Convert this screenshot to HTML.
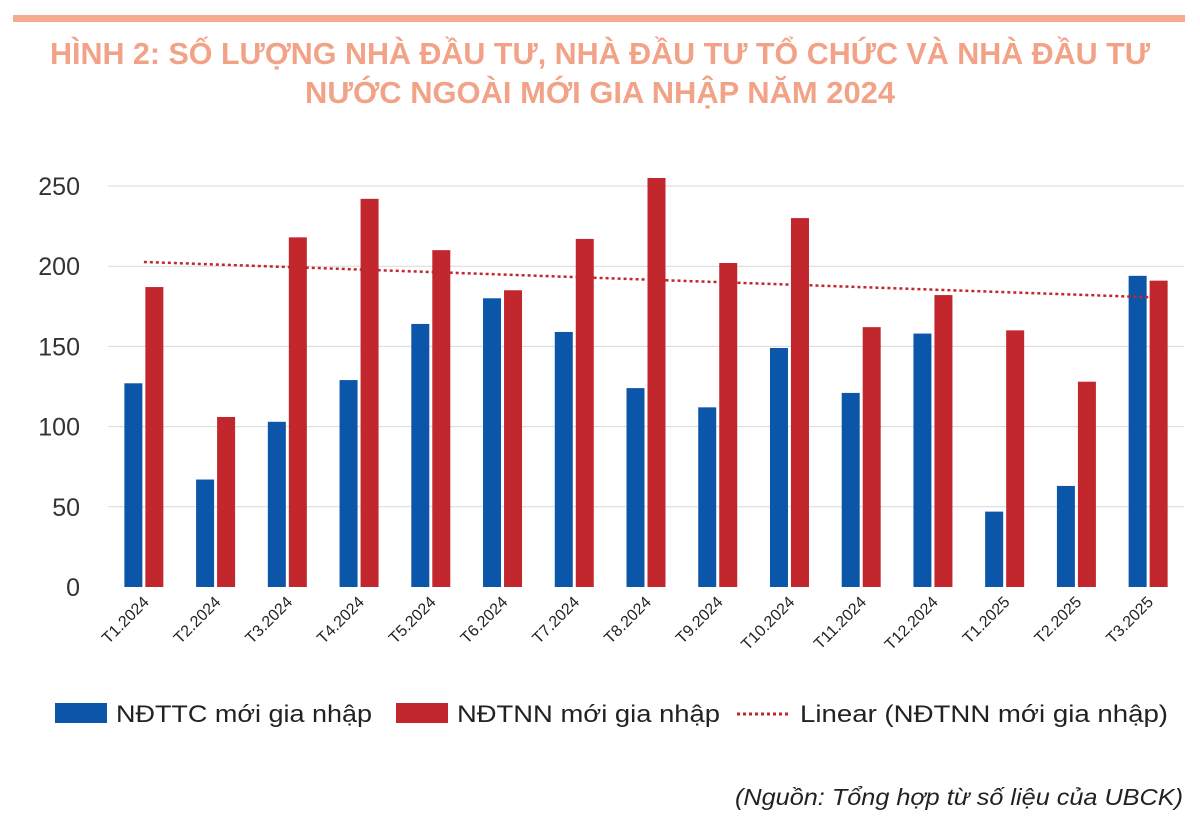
<!DOCTYPE html>
<html><head><meta charset="utf-8"><style>
body{margin:0;background:#fff;}
svg{display:block;font-family:"Liberation Sans",sans-serif;}
</style></head><body>
<svg width="1200" height="825" viewBox="0 0 1200 825">
<rect x="13" y="15" width="1172" height="7" fill="#f4ab8f"/>
<text x="600" y="64" text-anchor="middle" font-size="31" font-weight="bold" fill="#f2a387" textLength="1100" lengthAdjust="spacingAndGlyphs">HÌNH 2: SỐ LƯỢNG NHÀ ĐẦU TƯ, NHÀ ĐẦU TƯ TỔ CHỨC VÀ NHÀ ĐẦU TƯ</text>
<text x="600" y="103" text-anchor="middle" font-size="31" font-weight="bold" fill="#f2a387" textLength="590" lengthAdjust="spacingAndGlyphs">NƯỚC NGOÀI MỚI GIA NHẬP NĂM 2024</text>
<g id="grid"></g>
<g id="bars"></g>
<g id="xlabels"></g>
<g>
<rect x="55" y="703" width="52" height="20" fill="#0b56a8"/>
<text x="116" y="722" font-size="24" fill="#222" textLength="256" lengthAdjust="spacingAndGlyphs">NĐTTC mới gia nhập</text>
<rect x="396" y="703" width="52" height="20" fill="#c1272d"/>
<text x="457" y="722" font-size="24" fill="#222" textLength="263" lengthAdjust="spacingAndGlyphs">NĐTNN mới gia nhập</text>
<line x1="737" y1="714" x2="790" y2="714" stroke="#c1272d" stroke-width="3" stroke-dasharray="3,3"/>
<text x="800" y="722" font-size="24" fill="#222" textLength="368" lengthAdjust="spacingAndGlyphs">Linear (NĐTNN mới gia nhập)</text>
</g>
<text x="1183" y="805" text-anchor="end" font-size="23" font-style="italic" fill="#222" textLength="448" lengthAdjust="spacingAndGlyphs">(Nguồn: Tổng hợp từ số liệu của UBCK)</text>
</svg>
<script>
const categories=["T1.2024","T2.2024","T3.2024","T4.2024","T5.2024","T6.2024","T7.2024","T8.2024","T9.2024","T10.2024","T11.2024","T12.2024","T1.2025","T2.2025","T3.2025"];
const ndttc=[127,67,103,129,164,180,159,124,112,149,121,158,47,63,194];
const ndtnn=[187,106,218,242,210,185,217,255,202,230,162,182,160,128,191];
const yTicks=[0,50,100,150,200,250];
const NS="http://www.w3.org/2000/svg";
const x0=108,x1=1184,yBase=587,yTop=186,yMax=250;
const step=(x1-x0)/categories.length;
const X=i=>x0+step*(i+0.5);
const Y=v=>yBase-(v/yMax)*(yBase-yTop);
function mk(t,a,p){const e=document.createElementNS(NS,t);for(const k in a)e.setAttribute(k,a[k]);p.appendChild(e);return e;}
const grid=document.getElementById('grid');
yTicks.forEach(v=>{
 if(v>0){const l=mk('line',{x1:x0,x2:x1,y1:Y(v),y2:Y(v),stroke:'#d9d9d9','stroke-width':1},grid);
 
 }
 const t=mk('text',{x:80,y:Y(v)+9,'text-anchor':'end','font-size':25,fill:'#333'},grid);
 t.textContent=v;
 
 
});
const bars=document.getElementById('bars');
const bw=18;
categories.forEach((c,i)=>{
 const cx=X(i);
 const b=mk('rect',{x:cx-bw-1.5,y:Y(ndttc[i]),width:bw,height:yBase-Y(ndttc[i]),fill:'#0b56a8'},bars);
 
 
 const r=mk('rect',{x:cx+1.5,y:Y(ndtnn[i]),width:bw,height:yBase-Y(ndtnn[i]),fill:'#c1272d'},bars);
 
 
 const t=mk('text',{x:cx+6,y:603,'text-anchor':'end','font-size':16,fill:'#222',transform:`rotate(-45 ${cx+6} 603)`},document.getElementById('xlabels'));
 t.textContent=c;
 
 
});
const n=ndtnn.length;let sx=0,sy=0,sxy=0,sxx=0;
ndtnn.forEach((v,i)=>{sx+=i;sy+=v;sxy+=i*v;sxx+=i*i;});
const m=(n*sxy-sx*sy)/(n*sxx-sx*sx),b0=(sy-m*sx)/n;
const tl=mk('line',{x1:X(0),y1:Y(b0),x2:X(n-1)+10,y2:Y(b0+m*(n-1+10/step)),stroke:'#c1272d','stroke-width':2.5,'stroke-dasharray':'3,3'},bars);


</script>
</body></html>
